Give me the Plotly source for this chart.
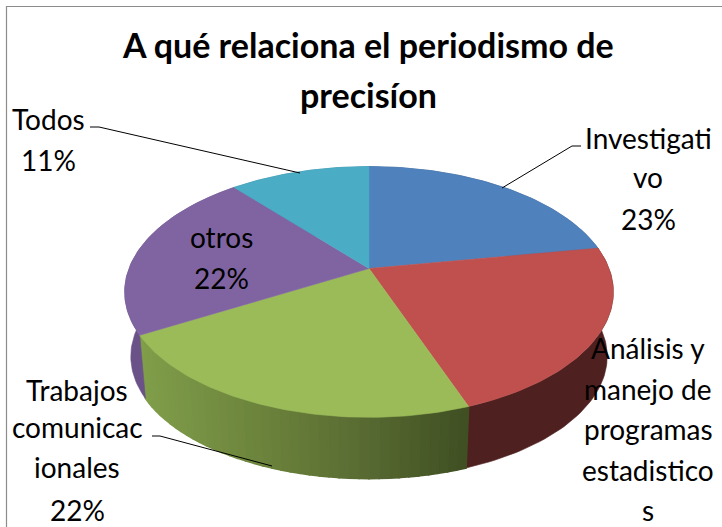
import math
import plotly.graph_objects as go

# ---- data ----
categories = ["Investigativo", "Análisis y manejo de programas estadisticos",
              "Trabajos comunicacionales", "otros", "Todos"]
values = [2, 2, 2, 2, 1]
percent_labels = ["23%", "22%", "22%", "22%", "11%"]
wrapped_labels = [["Investigati", "vo"],
                  ["Análisis y", "manejo de", "programas", "estadistico", "s"],
                  ["Trabajos", "comunicac", "ionales"],
                  ["otros"],
                  ["Todos"]]
title_lines = ["A qué relaciona el periodismo de", "precisíon"]
top_colors = ["#4f81bd", "#c0504d", "#9bbb59", "#8064a2", "#4bacc6"]

W, H = 722, 527
CX, CY, A, B, K = 369, 268.5, 240, 121, 0.187
DEPTH = 65
BOTTOM_SCALE = 0.975
FONT = "Lato"


def rim(t, drop=0.0, scale=1.0):
    w = 1 + K * math.cos(t)
    return (CX + scale * A * math.sin(t) / w,
            CY + drop - scale * B * math.cos(t) / w)


def arc(t0, t1, n, drop=0.0, scale=1.0):
    return [rim(t0 + (t1 - t0) * i / n, drop, scale) for i in range(n + 1)]


def lerp_color(x):
    stops = [(140, (128, 158, 74)), (290, (102, 124, 56)),
             (365, (88, 106, 50)), (470, (62, 78, 34))]
    if x <= stops[0][0]:
        return "rgb(%d,%d,%d)" % stops[0][1]
    for (x0, c0), (x1, c1) in zip(stops, stops[1:]):
        if x <= x1:
            f = (x - x0) / (x1 - x0)
            return "rgb(%d,%d,%d)" % tuple(round(a + (b - a) * f) for a, b in zip(c0, c1))
    return "rgb(%d,%d,%d)" % stops[-1][1]


fig = go.Figure()


def poly(pts, color, width=0.6):
    xs = [p[0] for p in pts] + [pts[0][0]]
    ys = [p[1] for p in pts] + [pts[0][1]]
    fig.add_trace(go.Scatter(x=xs, y=ys, mode="lines", fill="toself", fillcolor=color,
                             line=dict(color=color, width=width),
                             hoverinfo="skip", showlegend=False))


total = sum(values)
edges = [0.0]
for v in values:
    edges.append(edges[-1] + v / total * 2 * math.pi)

side_colors = ["#3a5a80", "#4f2020", None, "#6a5288", "#2f7f93"]

# side walls
for i, v in enumerate(values):
    t0, t1 = edges[i], edges[i + 1]
    if side_colors[i] is not None:
        top = arc(t0, t1, 60)
        bot = arc(t0, t1, 60, DEPTH, BOTTOM_SCALE)
        poly(top + bot[::-1], side_colors[i])
    else:
        n = 40
        for j in range(n):
            a = t0 + (t1 - t0) * j / n
            b = t0 + (t1 - t0) * (j + 1) / n
            top = arc(a, b, 2)
            bot = arc(a, b, 2, DEPTH, BOTTOM_SCALE)
            poly(top + bot[::-1], lerp_color(rim((a + b) / 2)[0]), 1.6)

# top faces
for i, v in enumerate(values):
    poly([(CX, CY)] + arc(edges[i], edges[i + 1], 80), top_colors[i])

# leader lines
leaders = [
    ([581, 572, 502], [146, 146, 188]),
    ([90, 99, 300], [127, 127, 173]),
    ([152, 160, 272], [436, 436, 466]),
]
for xs, ys in leaders:
    fig.add_trace(go.Scatter(x=xs, y=ys, mode="lines", line=dict(color="#000000", width=1),
                             hoverinfo="skip", showlegend=False))

# chart frame (top and left only are visible)
fig.add_trace(go.Scatter(x=[6.5, 6.5, 722], y=[527, 6.5, 6.5], mode="lines",
                         line=dict(color="#8c8c8c", width=1.2),
                         hoverinfo="skip", showlegend=False))

ann = []


def text(x, y, s, size=28, bold=False):
    ann.append(dict(x=x, y=y, xref="x", yref="y", text=f"<b>{s}</b>" if bold else s,
                    showarrow=False, xanchor="center", yanchor="middle",
                    font=dict(family=FONT, size=size, color="#000000")))


title_pos = [(368, 44), (368, 94)]
for (x, y), s in zip(title_pos, title_lines):
    text(x, y, s, 34, True)

label_pos = [
    (648, [138, 177, 219]),
    (648, [348, 389, 429, 470, 510]),
    (77, [390, 427, 467, 510]),
    (221, [237, 278]),
    (48, [119, 160]),
]
for i, (x, ys) in enumerate(label_pos):
    lines = wrapped_labels[i] + ([] if i == 1 else [percent_labels[i]])
    for y, s in zip(ys, lines):
        text(x, y, s)

fig.update_layout(
    width=W, height=H, margin=dict(l=0, r=0, t=0, b=0),
    paper_bgcolor="#ffffff", plot_bgcolor="#ffffff", showlegend=False,
    xaxis=dict(range=[0, W], visible=False, fixedrange=True),
    yaxis=dict(range=[H, 0], visible=False, fixedrange=True),
    annotations=ann,
)
fig.write_html("out.html", config=dict(displayModeBar=False),
               post_script="document.body.style.margin='0';document.documentElement.style.overflow='hidden';")
